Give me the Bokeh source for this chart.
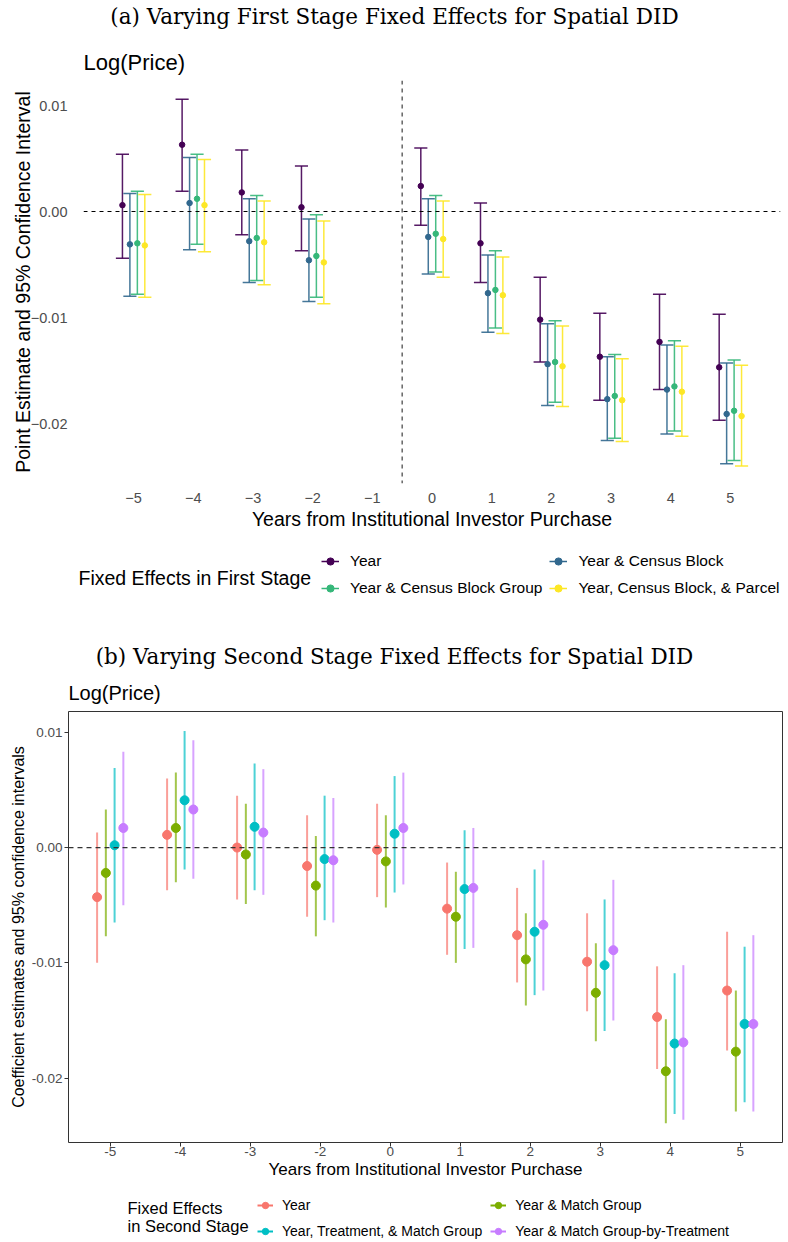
import numpy as np
from bokeh.embed import file_html
from bokeh.resources import INLINE
from bokeh.layouts import column
from bokeh.models import (ColumnDataSource, Range1d, FixedTicker, CustomJSTickFormatter,
                          Span, Label, Legend, LegendItem)
from bokeh.plotting import figure

SANS = "Liberation Sans"
SERIF = "DejaVu Serif"
W = 784

# ---------------- panel (a): first stage fixed effects ----------------
years_a = [-5, -4, -3, -2, 0, 1, 2, 3, 4, 5]
ticks_a = [-5, -4, -3, -2, -1, 0, 1, 2, 3, 4, 5]
names_a = ["Year", "Year & Census Block", "Year & Census Block Group",
           "Year, Census Block, & Parcel"]
colors_a = ["#440154", "#31688E", "#35B779", "#FDE725"]

est_a_year = [0.0006, 0.0063, 0.0018, 0.0004, 0.0024, -0.0030, -0.0102, -0.0137, -0.0123, -0.0147]
lo_a_year = [-0.0044, 0.0019, -0.0022, -0.0037, -0.0013, -0.0067, -0.0142, -0.0178, -0.0168, -0.0197]
hi_a_year = [0.0054, 0.0106, 0.0058, 0.0043, 0.0060, 0.0008, -0.0062, -0.0096, -0.0078, -0.0097]

est_a_block = [-0.0031, 0.0008, -0.0028, -0.0046, -0.0024, -0.0077, -0.0144, -0.0177, -0.0168, -0.0191]
lo_a_block = [-0.0080, -0.0036, -0.0067, -0.0085, -0.0059, -0.0114, -0.0183, -0.0216, -0.0210, -0.0238]
hi_a_block = [0.0017, 0.0051, 0.0012, -0.0007, 0.0012, -0.0041, -0.0106, -0.0137, -0.0126, -0.0143]

est_a_group = [-0.0030, 0.0012, -0.0025, -0.0042, -0.0021, -0.0074, -0.0142, -0.0174, -0.0165, -0.0188]
lo_a_group = [-0.0078, -0.0031, -0.0065, -0.0081, -0.0057, -0.0110, -0.0180, -0.0214, -0.0207, -0.0235]
hi_a_group = [0.0019, 0.0054, 0.0015, -0.0003, 0.0015, -0.0037, -0.0103, -0.0135, -0.0122, -0.0140]

est_a_parcel = [-0.0032, 0.0006, -0.0029, -0.0048, -0.0026, -0.0079, -0.0146, -0.0178, -0.0170, -0.0193]
lo_a_parcel = [-0.0081, -0.0038, -0.0069, -0.0087, -0.0062, -0.0115, -0.0184, -0.0217, -0.0212, -0.0240]
hi_a_parcel = [0.0016, 0.0049, 0.0010, -0.0009, 0.0010, -0.0043, -0.0108, -0.0139, -0.0127, -0.0145]

# ---------------- panel (b): second stage fixed effects ----------------
years_b = [-5, -4, -3, -2, 0, 1, 2, 3, 4, 5]
names_b = ["Year", "Year & Match Group", "Year, Treatment, & Match Group",
           "Year & Match Group-by-Treatment"]
colors_b = ["#F8766D", "#7CAE00", "#00BFC4", "#C77CFF"]

est_b_year = [-0.0043, 0.0011, 0.0000, -0.0016, -0.0002, -0.0053, -0.0076, -0.0099, -0.0147, -0.0124]
lo_b_year = [-0.0100, -0.0037, -0.0045, -0.0060, -0.0043, -0.0093, -0.0117, -0.0142, -0.0192, -0.0176]
hi_b_year = [0.0013, 0.0060, 0.0045, 0.0028, 0.0038, -0.0013, -0.0035, -0.0057, -0.0103, -0.0073]

est_b_match = [-0.0022, 0.0017, -0.0006, -0.0033, -0.0012, -0.0060, -0.0097, -0.0126, -0.0194, -0.0177]
lo_b_match = [-0.0077, -0.0030, -0.0049, -0.0077, -0.0052, -0.0100, -0.0137, -0.0168, -0.0239, -0.0229]
hi_b_match = [0.0033, 0.0065, 0.0038, 0.0010, 0.0028, -0.0021, -0.0057, -0.0083, -0.0149, -0.0124]

est_b_treat = [0.0002, 0.0041, 0.0018, -0.0010, 0.0012, -0.0036, -0.0073, -0.0102, -0.0170, -0.0153]
lo_b_treat = [-0.0065, -0.0019, -0.0037, -0.0063, -0.0039, -0.0088, -0.0128, -0.0159, -0.0231, -0.0221]
hi_b_treat = [0.0069, 0.0101, 0.0073, 0.0045, 0.0062, 0.0015, -0.0019, -0.0045, -0.0109, -0.0086]

est_b_bytreat = [0.0017, 0.0033, 0.0013, -0.0011, 0.0017, -0.0035, -0.0067, -0.0089, -0.0169, -0.0153]
lo_b_bytreat = [-0.0050, -0.0027, -0.0041, -0.0065, -0.0032, -0.0087, -0.0124, -0.0150, -0.0236, -0.0229]
hi_b_bytreat = [0.0083, 0.0093, 0.0068, 0.0043, 0.0065, 0.0017, -0.0011, -0.0028, -0.0102, -0.0076]


def dodge(n, width=0.5):
    return (np.arange(n) - (n - 1) / 2) * width / n


def blank_fig(h, rng=(0, 1)):
    # strip with no axes whose frame is the whole canvas: titles and legends live here
    f = figure(width=W, height=h, min_border=0, x_axis_location=None, y_axis_location=None,
               title_location=None, x_range=Range1d(*rng), y_range=Range1d(*rng),
               output_backend="svg", toolbar_location=None)
    f.frame_align = False
    f.grid.visible = False
    f.outline_line_color = None
    f.background_fill_color = "white"
    f.border_fill_color = "white"
    return f


def canvas_label(p, x, y, text, size, font=SANS, align="left", color="black"):
    p.add_layout(Label(x=x, y=y, x_units="canvas", y_units="canvas", text=text,
                       text_font=font, text_font_size=size, text_color=color,
                       text_align=align, text_baseline="middle"))


def style_common(p):
    p.frame_align = False
    p.xgrid.visible = False
    p.ygrid.visible = False
    p.background_fill_color = "white"
    p.border_fill_color = "white"
    for ax in (p.xaxis, p.yaxis):
        ax.axis_label_text_font = SANS
        ax.axis_label_text_font_style = "normal"
        ax.axis_label_text_color = "black"
        ax.major_label_text_font = SANS
        ax.major_label_text_color = "#4D4D4D"
        ax.axis_line_color = None
        ax.minor_tick_line_color = None


def legend_strip(h, names, colors, sources, loc, line_width, size, font_size, glyph_w, item_h,
                 standoff, spacing):
    # the strip's ranges sit away from the data, so only the legend keys show
    f = blank_fig(h, rng=(100, 101))
    items = []
    for name, col, src in zip(names, colors, sources):
        seg = f.segment("x", "lo", "x", "hi", source=src, line_color=col, line_width=line_width)
        pt = f.scatter("x", "est", source=src, size=size, color=col)
        items.append(LegendItem(label=name, renderers=[seg, pt]))
    f.add_layout(Legend(items=items, location=loc, orientation="horizontal", ncols=2,
                        label_text_font=SANS, label_text_font_size=font_size,
                        label_text_color="black", glyph_width=glyph_w, glyph_height=item_h,
                        label_height=item_h, label_standoff=standoff, spacing=spacing,
                        padding=0, margin=0, border_line_alpha=0, background_fill_alpha=0))
    return f


# ====================== header (a) ======================
head_a = blank_fig(80)
canvas_label(head_a, 394, 16, "(a) Varying First Stage Fixed Effects for Spatial DID", "21.5px",
             font=SERIF, align="center")
canvas_label(head_a, 83, 62, "Log(Price)", "22px")

# ====================== figure (a) ======================
pa = figure(frame_width=697, frame_height=403, min_border_left=83, min_border_right=4,
            min_border_top=0, min_border_bottom=55, title_location=None,
            x_range=Range1d(-5.84, 5.84), y_range=Range1d(-0.02566, 0.01236),
            output_backend="svg", toolbar_location=None)
style_common(pa)
pa.outline_line_color = None
pa.xaxis.ticker = FixedTicker(ticks=ticks_a)
pa.xaxis.formatter = CustomJSTickFormatter(code="return String(tick).replace('-', '\\u2212')")
pa.yaxis.ticker = FixedTicker(ticks=[-0.02, -0.01, 0.0, 0.01])
pa.yaxis.formatter = CustomJSTickFormatter(code="return tick.toFixed(2).replace('-', '\\u2212')")
for ax in (pa.xaxis, pa.yaxis):
    ax.major_tick_line_color = None
    ax.major_label_text_font_size = "14.5px"
    ax.axis_label_text_font_size = "19.5px"
pa.xaxis.axis_label = "Years from Institutional Investor Purchase"
pa.yaxis.axis_label = "Point Estimate and 95% Confidence Interval"
pa.xaxis.major_label_standoff = 3
pa.xaxis.axis_label_standoff = 2
pa.yaxis.major_label_standoff = 10
pa.yaxis.axis_label_standoff = -6

pa.add_layout(Span(location=0, dimension="width", line_color="black",
                   line_width=1, line_dash="4 4"))
pa.add_layout(Span(location=-0.5, dimension="height", line_color="#4D4D4D",
                   line_width=1.3, line_dash="4 4"))

series_a = [
    (est_a_year, lo_a_year, hi_a_year),
    (est_a_block, lo_a_block, hi_a_block),
    (est_a_group, lo_a_group, hi_a_group),
    (est_a_parcel, lo_a_parcel, hi_a_parcel),
]
offs_a = dodge(len(series_a))
cap = 0.11
sources_a = []
for k, (est, lo, hi) in enumerate(series_a):
    x = np.array(years_a, dtype=float) + offs_a[k]
    src = ColumnDataSource(dict(x=x, x0=x - cap, x1=x + cap, est=est, lo=lo, hi=hi))
    sources_a.append(src)
    col = colors_a[k]
    pa.segment("x", "lo", "x", "hi", source=src, line_color=col, line_width=1.5, line_alpha=0.9)
    pa.segment("x0", "hi", "x1", "hi", source=src, line_color=col, line_width=1.5, line_alpha=0.9)
    pa.segment("x0", "lo", "x1", "lo", source=src, line_color=col, line_width=1.5, line_alpha=0.9)
for k, src in enumerate(sources_a):
    pa.scatter("x", "est", source=src, size=5.5, color=colors_a[k])

# ====================== legend (a) ======================
leg_a = legend_strip(72, names_a, colors_a, sources_a, loc=(321, 12), line_width=1.5, size=5.5,
                     font_size="15.5px", glyph_w=18, item_h=20, standoff=11, spacing=7)
canvas_label(leg_a, 78, 39, "Fixed Effects in First Stage", "19.5px")

# ====================== header (b) ======================
head_b = blank_fig(101)
canvas_label(head_b, 394, 46, "(b) Varying Second Stage Fixed Effects for Spatial DID", "21.5px",
             font=SERIF, align="center")
canvas_label(head_b, 68, 82, "Log(Price)", "20px")

# ====================== figure (b) ======================
pb = figure(frame_width=714, frame_height=431, min_border_left=68, min_border_right=2,
            min_border_top=0, min_border_bottom=42, title_location=None,
            x_range=Range1d(0.404, 10.604), y_range=Range1d(-0.02558, 0.0118),
            output_backend="svg", toolbar_location=None)
style_common(pb)
pb.outline_line_color = "#333333"
pb.outline_line_width = 1
pos_b = np.arange(1, len(years_b) + 1)
pb.xaxis.ticker = FixedTicker(ticks=list(pos_b))
pb.xaxis.formatter = CustomJSTickFormatter(args=dict(labels=[str(y) for y in years_b]),
                                           code="return labels[Math.round(tick) - 1] || ''")
pb.yaxis.ticker = FixedTicker(ticks=[-0.02, -0.01, 0.0, 0.01])
pb.yaxis.formatter = CustomJSTickFormatter(code="return tick.toFixed(2)")
for ax in (pb.xaxis, pb.yaxis):
    ax.major_tick_line_color = "#333333"
    ax.major_tick_out = 4
    ax.major_tick_in = 0
    ax.major_label_text_font_size = "13.5px"
pb.xaxis.axis_label = "Years from Institutional Investor Purchase"
pb.yaxis.axis_label = "Coefficient estimates and 95% confidence intervals"
pb.xaxis.axis_label_text_font_size = "17px"
pb.yaxis.axis_label_text_font_size = "16px"
pb.xaxis.major_label_standoff = 0
pb.xaxis.axis_label_standoff = 1
pb.yaxis.major_label_standoff = 2
pb.yaxis.axis_label_standoff = 2

pb.add_layout(Span(location=0, dimension="width", line_color="#333333",
                   line_width=1.2, line_dash="5 4"))

series_b = [
    (est_b_year, lo_b_year, hi_b_year),
    (est_b_match, lo_b_match, hi_b_match),
    (est_b_treat, lo_b_treat, hi_b_treat),
    (est_b_bytreat, lo_b_bytreat, hi_b_bytreat),
]
offs_b = dodge(len(series_b))
sources_b = []
for k, (est, lo, hi) in enumerate(series_b):
    x = pos_b + offs_b[k]
    src = ColumnDataSource(dict(x=x, est=est, lo=lo, hi=hi))
    sources_b.append(src)
    pb.segment("x", "lo", "x", "hi", source=src, line_color=colors_b[k],
               line_width=2, line_alpha=0.7)
for k, src in enumerate(sources_b):
    pb.scatter("x", "est", source=src, size=9, color=colors_b[k])

# ====================== legend (b) ======================
leg_b = legend_strip(56, names_b, colors_b, sources_b, loc=(257, 0), line_width=2, size=8,
                     font_size="14px", glyph_w=16, item_h=18, standoff=9, spacing=8)
canvas_label(leg_b, 127, 23, "Fixed Effects", "16.5px")
canvas_label(leg_b, 127, 41, "in Second Stage", "16.5px")

layout = column(head_a, pa, leg_a, head_b, pb, leg_b)
open("out.html", "w").write(file_html(layout, INLINE))
